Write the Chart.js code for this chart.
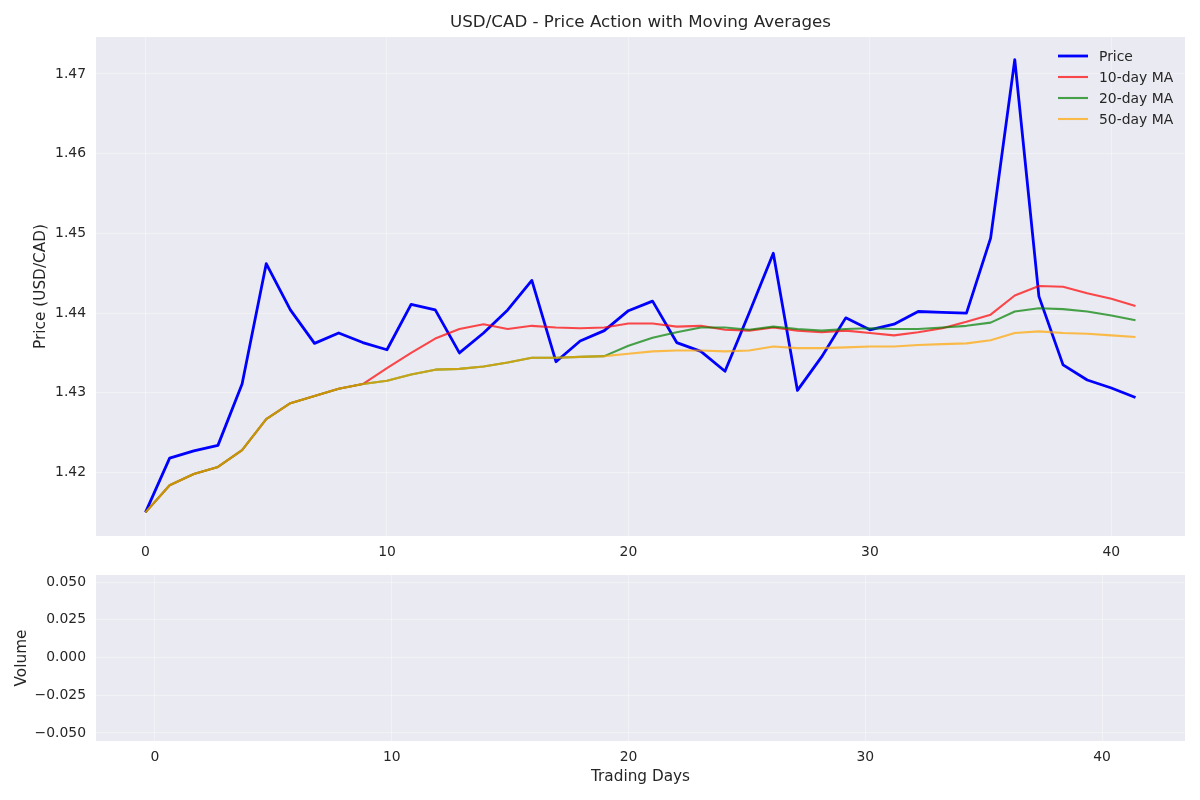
<!DOCTYPE html>
<html>
<head>
<meta charset="utf-8">
<script src="https://cdn.jsdelivr.net/npm/chart.js@4/dist/chart.umd.min.js"></script>
<style>
  html, body { margin: 0; padding: 0; background: #ffffff; }
  #wrap { position: relative; width: 1200px; height: 800px; }
  #c1 { position: absolute; left: 0; top: 0; }
  #c2 { position: absolute; left: 0; top: 560px; }
</style>
</head>
<body>
<div id="wrap">
  <canvas id="c1" width="1200" height="560"></canvas>
  <canvas id="c2" width="1200" height="240"></canvas>
</div>
<script>
// ---- Data ----
const days = [0,1,2,3,4,5,6,7,8,9,10,11,12,13,14,15,16,17,18,19,20,21,22,23,24,25,26,27,28,29,30,31,32,33,34,35,36,37,38,39,40,41];

const price = [1.4150, 1.4218, 1.4227, 1.4234, 1.4311, 1.4462, 1.4404, 1.4362, 1.4375, 1.4363,
               1.4354, 1.4411, 1.4404, 1.4350, 1.4375, 1.4404, 1.4441, 1.4339, 1.4365, 1.4378,
               1.4403, 1.4415, 1.4363, 1.4352, 1.4327, 1.4400, 1.4475, 1.4303, 1.4345, 1.4394,
               1.4379, 1.4386, 1.4402, 1.4401, 1.4400, 1.4494, 1.4718, 1.4421, 1.4335, 1.4316,
               1.4306, 1.4294];

const ma10 = [1.4150, 1.4184, 1.4198, 1.4207, 1.4228, 1.4267, 1.4287, 1.4296, 1.4305, 1.4311,
              1.4331, 1.4350, 1.4368, 1.4380, 1.4386, 1.4380, 1.4384, 1.4382, 1.4381, 1.4382,
              1.4387, 1.4387, 1.4383, 1.4384, 1.4379, 1.4378, 1.4382, 1.4378, 1.4376, 1.4378,
              1.4375, 1.4372, 1.4376, 1.4381, 1.4389, 1.4398, 1.4422, 1.4434, 1.4433, 1.4425,
              1.4418, 1.4409];

const ma20 = [1.4150, 1.4184, 1.4198, 1.4207, 1.4228, 1.4267, 1.4287, 1.4296, 1.4305, 1.4311,
              1.4315, 1.4323, 1.4329, 1.4330, 1.4333, 1.4338, 1.4344, 1.4344, 1.4345, 1.4346,
              1.4359, 1.4369, 1.4376, 1.4382, 1.4382, 1.4379, 1.4383, 1.4380, 1.4378, 1.4380,
              1.4381, 1.4380, 1.4380, 1.4382, 1.4384, 1.4388, 1.4402, 1.4406, 1.4405, 1.4402,
              1.4397, 1.4391];

const ma50 = [1.4150, 1.4184, 1.4198, 1.4207, 1.4228, 1.4267, 1.4287, 1.4296, 1.4305, 1.4311,
              1.4315, 1.4323, 1.4329, 1.4330, 1.4333, 1.4338, 1.4344, 1.4344, 1.4345, 1.4346,
              1.4349, 1.4352, 1.4353, 1.4353, 1.4352, 1.4353, 1.4358, 1.4356, 1.4356, 1.4357,
              1.4358, 1.4358, 1.4360, 1.4361, 1.4362, 1.4366, 1.4375, 1.4377, 1.4375, 1.4374,
              1.4372, 1.4370];

const volume = [];

const xTicks = [0, 10, 20, 30, 40];
const priceTicks = [1.42, 1.43, 1.44, 1.45, 1.46, 1.47];
const volumeTicks = [-0.05, -0.025, 0, 0.025, 0.05];

const seriesNames = ['Price', '10-day MA', '20-day MA', '50-day MA'];
const chartTitle = 'USD/CAD - Price Action with Moving Averages';

// ---- Styling ----
const FONT = "'DejaVu Sans', sans-serif";
const TXT = '#262626';
const BG = '#EAEAF2';
const GRID = 'rgba(255,255,255,0.35)';
const COLORS = ['#0000ff', 'rgba(255,0,0,0.7)', 'rgba(0,128,0,0.7)', 'rgba(255,165,0,0.7)'];
const WIDTHS = [2.8, 2.1, 2.1, 2.1];
const TICK_SIZE = 13.9;
const LABEL_SIZE = 15.3;

Chart.defaults.font.family = FONT;
Chart.defaults.color = TXT;

const bgPlugin = {
  id: 'bgPlugin',
  beforeDraw(chart) {
    const a = chart.chartArea, ctx = chart.ctx;
    ctx.save();
    ctx.fillStyle = BG;
    ctx.fillRect(a.left, a.top, a.right - a.left, a.bottom - a.top);
    ctx.restore();
  }
};

const titlePlugin = {
  id: 'axesTitle',
  afterDraw(chart) {
    const a = chart.chartArea, ctx = chart.ctx;
    ctx.save();
    ctx.font = "16.7px " + FONT;
    ctx.fillStyle = TXT;
    ctx.textAlign = 'center';
    ctx.textBaseline = 'middle';
    ctx.fillText(chartTitle, (a.left + a.right) / 2, 23);
    ctx.restore();
  }
};

const legendPlugin = {
  id: 'innerLegend',
  afterDraw(chart) {
    const ctx = chart.ctx;
    const x0 = 1058, x1 = 1088, tx = 1099;
    const ys = [56, 77, 98, 119];
    ctx.save();
    ctx.font = "13.9px " + FONT;
    ctx.textBaseline = 'middle';
    ctx.textAlign = 'left';
    for (let i = 0; i < seriesNames.length; i++) {
      ctx.strokeStyle = COLORS[i];
      ctx.lineWidth = WIDTHS[i];
      ctx.beginPath();
      ctx.moveTo(x0, ys[i]);
      ctx.lineTo(x1, ys[i]);
      ctx.stroke();
      ctx.fillStyle = TXT;
      ctx.fillText(seriesNames[i], tx, ys[i] + 1);
    }
    ctx.restore();
  }
};

const toXY = arr => arr.map((v, i) => ({ x: days[i], y: v }));
const seriesData = [price, ma10, ma20, ma50];

const datasets = seriesData.map((arr, i) => ({
  label: seriesNames[i],
  data: toXY(arr),
  borderColor: COLORS[i],
  backgroundColor: COLORS[i],
  borderWidth: WIDTHS[i],
  pointRadius: 0,
  tension: 0,
  fill: false,
  order: 4 - i,
  borderJoinStyle: 'round',
  borderCapStyle: 'butt'
}));

const fixY = w => s => { s.width = w; s.paddingTop = 0; s.paddingBottom = 0; };
const fixX = h => s => { s.height = h; s.paddingLeft = 0; s.paddingRight = 0; };

new Chart(document.getElementById('c1'), {
  type: 'line',
  data: { datasets },
  options: {
    responsive: false,
    animation: false,
    devicePixelRatio: 1,
    layout: { padding: { left: 0, right: 15, top: 37, bottom: 0 } },
    plugins: {
      legend: { display: false },
      tooltip: { enabled: false },
      title: { display: false }
    },
    scales: {
      x: {
        type: 'linear',
        min: -2.05, max: 43.05,
        afterBuildTicks: s => { s.ticks = xTicks.map(v => ({ value: v })); },
        afterFit: fixX(24),
        ticks: { font: { size: TICK_SIZE }, color: TXT, padding: 8.5, maxRotation: 0 },
        grid: { color: GRID, lineWidth: 1, drawTicks: false },
        border: { display: false }
      },
      y: {
        type: 'linear',
        min: 1.41203, max: 1.47464,
        afterBuildTicks: s => { s.ticks = priceTicks.map(v => ({ value: v })); },
        afterFit: fixY(96),
        ticks: { font: { size: TICK_SIZE }, color: TXT, padding: 10, callback: v => Number(v).toFixed(2) },
        grid: { color: GRID, lineWidth: 1, drawTicks: false },
        border: { display: false },
        title: {
          display: true,
          text: 'Price (USD/CAD)',
          color: TXT,
          font: { size: LABEL_SIZE, family: FONT },
          padding: { top: 31.8, bottom: 0 }
        }
      }
    }
  },
  plugins: [bgPlugin, titlePlugin, legendPlugin]
});

new Chart(document.getElementById('c2'), {
  type: 'bar',
  data: { datasets: [{ label: 'Volume', data: volume.map((v, i) => ({ x: days[i], y: v })), backgroundColor: 'rgba(128,128,128,0.5)' }] },
  options: {
    responsive: false,
    animation: false,
    devicePixelRatio: 1,
    layout: { padding: { left: 0, right: 15, top: 15, bottom: 0 } },
    plugins: {
      legend: { display: false },
      tooltip: { enabled: false },
      title: { display: false }
    },
    scales: {
      x: {
        type: 'linear',
        min: -2.49, max: 43.5,
        offset: false,
        afterBuildTicks: s => { s.ticks = xTicks.map(v => ({ value: v })); },
        afterFit: fixX(59),
        ticks: { font: { size: TICK_SIZE }, color: TXT, padding: 8.5, maxRotation: 0 },
        grid: { color: GRID, lineWidth: 1, drawTicks: false, offset: false },
        border: { display: false },
        title: {
          display: true,
          text: 'Trading Days',
          color: TXT,
          font: { size: LABEL_SIZE, family: FONT },
          padding: { top: 0, bottom: 13.8 }
        }
      },
      y: {
        type: 'linear',
        min: -0.0553, max: 0.05464,
        afterBuildTicks: s => { s.ticks = volumeTicks.map(v => ({ value: v })); },
        afterFit: fixY(96),
        ticks: { font: { size: TICK_SIZE }, color: TXT, padding: 10,
                 callback: v => Number(v).toFixed(3).replace('-', '\u2212') },
        grid: { color: GRID, lineWidth: 1, drawTicks: false },
        border: { display: false },
        title: {
          display: true,
          text: 'Volume',
          color: TXT,
          font: { size: LABEL_SIZE, family: FONT },
          padding: { top: 13, bottom: 0 }
        }
      }
    }
  },
  plugins: [bgPlugin]
});
</script>
</body>
</html>
